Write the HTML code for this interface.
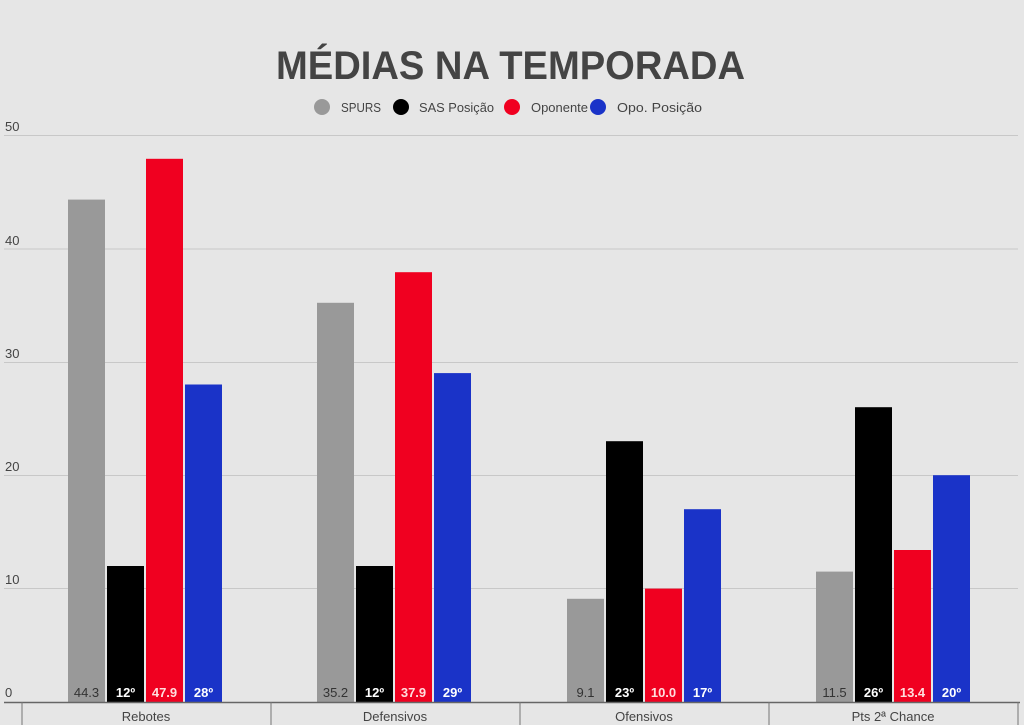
<!DOCTYPE html><html><head><meta charset="utf-8"><style>body{margin:0;background:#e6e6e6}svg{display:block;font-family:"Liberation Sans",sans-serif}</style></head><body>
<svg width="1024" height="725" viewBox="0 0 1024 725">
<rect width="1024" height="725" fill="#e6e6e6"/>
<text x="276" y="79" font-size="40" font-weight="bold" fill="#444" textLength="469" lengthAdjust="spacingAndGlyphs">MÉDIAS NA TEMPORADA</text>
<g font-size="13" fill="#444">
<circle cx="322" cy="107" r="8" fill="#999"/><text x="341" y="112" textLength="40" lengthAdjust="spacingAndGlyphs">SPURS</text>
<circle cx="401" cy="107" r="8" fill="#000"/><text x="419" y="112" textLength="75" lengthAdjust="spacingAndGlyphs">SAS Posição</text>
<circle cx="512" cy="107" r="8" fill="#f00020"/><text x="531" y="112" textLength="57" lengthAdjust="spacingAndGlyphs">Oponente</text>
<circle cx="598" cy="107" r="8" fill="#1a33c8"/><text x="617" y="112" textLength="85" lengthAdjust="spacingAndGlyphs">Opo. Posição</text>
</g>
<g stroke="#c8c8c8" stroke-width="1">
<line x1="4" x2="1018" y1="135.5" y2="135.5"/><line x1="4" x2="1018" y1="249" y2="249"/><line x1="4" x2="1018" y1="362.5" y2="362.5"/><line x1="4" x2="1018" y1="475.5" y2="475.5"/><line x1="4" x2="1018" y1="588.5" y2="588.5"/>
</g>
<g font-size="13" fill="#444">
<text x="5" y="131">50</text><text x="5" y="245">40</text><text x="5" y="358">30</text><text x="5" y="471">20</text><text x="5" y="584">10</text><text x="5" y="697">0</text>
</g>
<g>
<rect x="68" y="199.6" width="37" height="502.4" fill="#999"/><rect x="107" y="566" width="37" height="136" fill="#000"/><rect x="146" y="158.8" width="37" height="543.2" fill="#f00020"/><rect x="185" y="384.5" width="37" height="317.5" fill="#1a33c8"/>
<rect x="317" y="302.8" width="37" height="399.2" fill="#999"/><rect x="356" y="566" width="37" height="136" fill="#000"/><rect x="395" y="272.2" width="37" height="429.8" fill="#f00020"/><rect x="434" y="373.1" width="37" height="328.9" fill="#1a33c8"/>
<rect x="567" y="598.8" width="37" height="103.2" fill="#999"/><rect x="606" y="441.2" width="37" height="260.8" fill="#000"/><rect x="645" y="588.6" width="37" height="113.4" fill="#f00020"/><rect x="684" y="509.2" width="37" height="192.8" fill="#1a33c8"/>
<rect x="816" y="571.6" width="37" height="130.4" fill="#999"/><rect x="855" y="407.2" width="37" height="294.8" fill="#000"/><rect x="894" y="550" width="37" height="152" fill="#f00020"/><rect x="933" y="475.2" width="37" height="226.8" fill="#1a33c8"/>
</g>
<g font-size="13" text-anchor="middle" font-weight="bold">
<text x="86.5" y="697" fill="#333" font-weight="normal">44.3</text><text x="125.5" y="697" fill="#fff">12º</text><text x="164.5" y="697" fill="#fdd">47.9</text><text x="203.5" y="697" fill="#fff">28º</text>
<text x="335.5" y="697" fill="#333" font-weight="normal">35.2</text><text x="374.5" y="697" fill="#fff">12º</text><text x="413.5" y="697" fill="#fdd">37.9</text><text x="452.5" y="697" fill="#fff">29º</text>
<text x="585.5" y="697" fill="#333" font-weight="normal">9.1</text><text x="624.5" y="697" fill="#fff">23º</text><text x="663.5" y="697" fill="#fdd">10.0</text><text x="702.5" y="697" fill="#fff">17º</text>
<text x="834.5" y="697" fill="#333" font-weight="normal">11.5</text><text x="873.5" y="697" fill="#fff">26º</text><text x="912.5" y="697" fill="#fdd">13.4</text><text x="951.5" y="697" fill="#fff">20º</text>
</g>
<line x1="4" x2="1020" y1="702.5" y2="702.5" stroke="#666" stroke-width="1.5"/>
<g stroke="#777" stroke-width="1"><line x1="22" x2="22" y1="702" y2="725"/><line x1="271" x2="271" y1="702" y2="725"/><line x1="520" x2="520" y1="702" y2="725"/><line x1="769" x2="769" y1="702" y2="725"/><line x1="1018" x2="1018" y1="702" y2="725"/></g>
<g font-size="13" fill="#444" text-anchor="middle">
<text x="146" y="721">Rebotes</text><text x="395" y="721">Defensivos</text><text x="644" y="721">Ofensivos</text><text x="893" y="721">Pts 2ª Chance</text>
</g>
</svg></body></html>
